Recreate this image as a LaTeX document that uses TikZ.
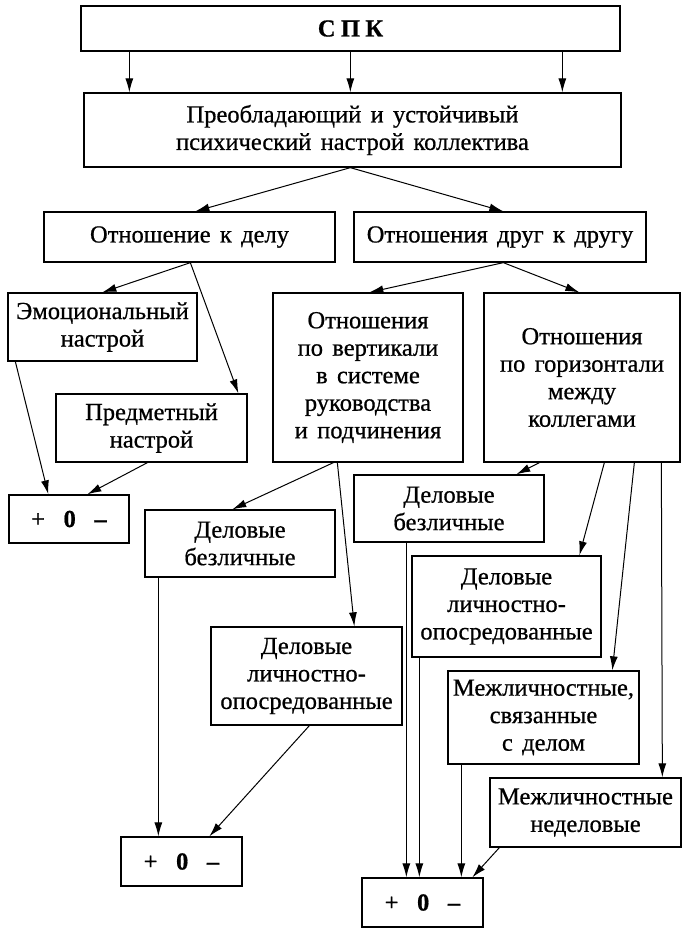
\documentclass[tikz,border=0pt]{standalone}
\usepackage{fontspec}
\setmainfont{Liberation Serif}
\newfontfamily\heavy{Liberation Serif}[FakeBold=0.7]
\usetikzlibrary{arrows.meta}
\newcommand\boxfnt{\heavy\fontsize{24.5}{27.5}\selectfont\setlength{\spaceskip}{0.38em}}
\begin{document}
\begin{tikzpicture}[x=1pt,y=-1pt,
  box/.style={draw, line width=1.3pt, align=center, inner sep=2pt, anchor=center,
    font=\boxfnt},
  arr/.style={line width=1pt, -{Latex[length=14pt,width=8pt]}},
  ln/.style={line width=1pt}]
\useasboundingbox (0,0) rectangle (688,935);
\fill[white] (0,0) rectangle (688,935);

\node[box, minimum width=539pt, minimum height=45pt] (spk) at (350.5,28.5) {\textbf{С\hspace{0.22em}П\hspace{0.22em}К}};
\node[box, minimum width=537pt, minimum height=74pt] (nas) at (352.5,130) {Преобладающий и устойчивый\\психический настрой коллектива};
\node[box, minimum width=291pt, minimum height=50pt] (delo) at (189.5,237) {Отношение к делу};
\node[box, minimum width=292pt, minimum height=50pt] (drug) at (500,237) {Отношения друг к другу};
\node[box, minimum width=189pt, minimum height=68pt] (emo) at (102.5,327) {Эмоциональный\\настрой};
\node[box, minimum width=191pt, minimum height=68pt] (pred) at (151.5,428) {Предметный\\настрой};
\node[box, minimum width=120pt, minimum height=48pt] (pm1) at (69,519) {+\ \ \textbf{0}\ \ \textbf{–}};
\node[box, minimum width=190pt, minimum height=169pt] (vert) at (368,377.5) {Отношения\\по вертикали\\в системе\\руководства\\и подчинения};
\node[box, minimum width=196pt, minimum height=169pt] (horiz) at (582,377.5) {Отношения\\по горизонтали\\между\\коллегами};
\node[box, minimum width=190pt, minimum height=67pt] (db1) at (240,543.5) {Деловые\\безличные};
\node[box, minimum width=191pt, minimum height=98pt] (dl1) at (306.5,676) {Деловые\\личностно-\\опосредованные};
\node[box, minimum width=121pt, minimum height=49pt] (pm2) at (181.5,861.5) {+\ \ \textbf{0}\ \ \textbf{–}};
\node[box, minimum width=190pt, minimum height=67pt] (db2) at (449,508.5) {Деловые\\безличные};
\node[box, minimum width=189pt, minimum height=101pt] (dl2) at (506.5,606.5) {Деловые\\личностно-\\опосредованные};
\node[box, minimum width=191pt, minimum height=93pt] (ms) at (543.5,717.5) {Межличностные,\\связанные\\с делом};
\node[box, minimum width=191pt, minimum height=69pt] (mn) at (585.5,812.5) {Межличностные\\неделовые};
\node[box, minimum width=121pt, minimum height=49pt] (pm3) at (422.5,902.5) {+\ \ \textbf{0}\ \ \textbf{–}};

% SPK -> nastroy
\draw[arr] ([xshift=49pt]spk.south west) -- ([xshift=46pt]nas.north west);
\draw[arr] ([xshift=270pt]spk.south west) -- ([xshift=267pt]nas.north west);
\draw[arr] ([xshift=482pt]spk.south west) -- ([xshift=479pt]nas.north west);
% nastroy -> delo, drug
\draw[arr] ([xshift=267pt]nas.south west) -- ([xshift=152pt]delo.north west);
\draw[arr] ([xshift=267pt]nas.south west) -- ([xshift=150pt]drug.north west);
% delo -> emo, pred
\draw[arr] ([xshift=147pt]delo.south west) -- ([xshift=95pt]emo.north west);
\draw[arr] ([xshift=147pt]delo.south west) -- ([xshift=183pt]pred.north west);
% emo, pred -> pm1
\draw[arr] ([xshift=8pt]emo.south west) -- ([xshift=40pt]pm1.north west);
\draw[arr] ([xshift=92pt]pred.south west) -- ([xshift=79pt]pm1.north west);
% drug -> vert, horiz
\draw[arr] ([xshift=150pt]drug.south west) -- ([xshift=97pt]vert.north west);
\draw[arr] ([xshift=150pt]drug.south west) -- ([xshift=96pt]horiz.north west);
% vert -> db1, dl1
\draw[arr] ([xshift=61pt]vert.south west) -- ([xshift=88pt]db1.north west);
\draw[arr] ([xshift=65pt]vert.south west) -- ([xshift=144pt]dl1.north west);
% db1, dl1 -> pm2
\draw[arr] ([xshift=14pt]db1.south west) -- ([xshift=38pt]pm2.north west);
\draw[arr] ([xshift=99pt]dl1.south west) -- ([xshift=89pt]pm2.north west);
% horiz -> db2, dl2, ms, mn
\draw[arr] ([xshift=56pt]horiz.south west) -- ([xshift=163pt]db2.north west);
\draw[arr] ([xshift=121pt]horiz.south west) -- ([xshift=168pt]dl2.north west);
\draw[arr] ([xshift=151pt]horiz.south west) -- ([xshift=165pt]ms.north west);
\draw[arr] ([xshift=178pt]horiz.south west) -- ([xshift=173pt]mn.north west);
% db2, dl2, ms, mn -> pm3
\draw[arr] ([xshift=53pt]db2.south west) -- ([xshift=45pt]pm3.north west);
\draw[arr] ([xshift=8pt]dl2.south west) -- ([xshift=58pt]pm3.north west);
\draw[arr] ([xshift=14pt]ms.south west) -- ([xshift=100pt]pm3.north west);
\draw[arr] ([xshift=10pt]mn.south west) -- ([xshift=111pt]pm3.north west);
\end{tikzpicture}
\end{document}
